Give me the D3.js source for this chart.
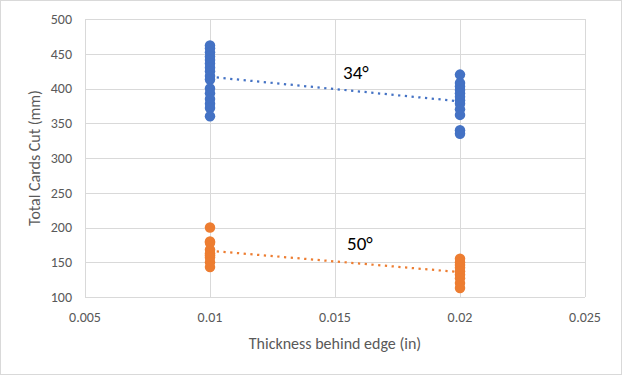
<!DOCTYPE html>
<html>
<head>
<meta charset="utf-8">
<script src="https://cdn.jsdelivr.net/npm/d3@7"></script>
<style>
  body { margin: 0; background: #fff; }
  text { font-family: Carlito, Calibri, "Liberation Sans", sans-serif; }
</style>
</head>
<body>
<div id="chart"></div>
<script>
const xTicks = [0.005, 0.01, 0.015, 0.02, 0.025];
const yTicks = [100, 150, 200, 250, 300, 350, 400, 450, 500];
const blueX = [0.01, 0.02];
const blue01 = [462, 458, 452, 446, 441, 436, 430, 425, 418, 413, 400, 393, 385, 378, 372, 360];
const blue02 = [420, 408, 403, 398, 393, 388, 383, 378, 370, 362, 340, 335];
const orange01 = [200, 180, 178, 168, 163, 160, 157, 150, 143];
const orange02 = [155, 150, 146, 142, 137, 132, 127, 120, 113];
const seriesNames = ["34°", "50°"];
const colors = ["#4472C4", "#ED7D31"];

const SIZE = { width: 622, height: 375 };
const MARGIN = { left: 85, right: 37, top: 19, bottom: 78 };

const svg = d3.select("div#chart").append("svg")
    .attr("width", SIZE.width)
    .attr("height", SIZE.height);

svg.append("rect")
    .attr("x", 0.5).attr("y", 0.5)
    .attr("width", SIZE.width - 1).attr("height", SIZE.height - 1)
    .attr("fill", "#fff").attr("stroke", "#d9d9d9");

const x = d3.scaleLinear().domain([0.005, 0.025]).range([MARGIN.left, SIZE.width - MARGIN.right]);
const y = d3.scaleLinear().domain([100, 500]).range([SIZE.height - MARGIN.bottom, MARGIN.top]);

// grid
svg.append("g").selectAll("line").data(yTicks).join("line")
    .attr("x1", MARGIN.left).attr("x2", SIZE.width - MARGIN.right)
    .attr("y1", d => Math.round(y(d)) + 0.5).attr("y2", d => Math.round(y(d)) + 0.5)
    .attr("stroke", "#d9d9d9");
svg.append("g").selectAll("line").data(xTicks).join("line")
    .attr("y1", MARGIN.top).attr("y2", SIZE.height - MARGIN.bottom)
    .attr("x1", d => Math.round(x(d)) + 0.5).attr("x2", d => Math.round(x(d)) + 0.5)
    .attr("stroke", "#d9d9d9");

// tick labels
svg.append("g").selectAll("text").data(yTicks).join("text")
    .attr("x", MARGIN.left - 13).attr("y", d => y(d)).attr("dy", "0.35em")
    .attr("text-anchor", "end").attr("font-size", 14).attr("fill", "#595959")
    .text(d => d);
svg.append("g").selectAll("text").data(xTicks).join("text")
    .attr("x", d => x(d)).attr("y", SIZE.height - MARGIN.bottom + 20).attr("dy", "0.35em")
    .attr("text-anchor", "middle").attr("font-size", 14).attr("fill", "#595959")
    .text(d => d3.format("")(d));

// axis titles
svg.append("text")
    .attr("x", (MARGIN.left + SIZE.width - MARGIN.right) / 2).attr("y", 343).attr("dy", "0.35em")
    .attr("text-anchor", "middle").attr("font-size", 16).attr("fill", "#595959")
    .text("Thickness behind edge (in)");
svg.append("text")
    .attr("transform", `translate(34, ${(MARGIN.top + SIZE.height - MARGIN.bottom) / 2}) rotate(-90)`)
    .attr("dy", "0.35em")
    .attr("text-anchor", "middle").attr("font-size", 16).attr("fill", "#595959")
    .text("Total Cards Cut (mm)");

const series = [
  [blue01, blue02],
  [orange01, orange02]
];

series.forEach((groups, si) => {
  const pts = groups.flatMap((vals, gi) => vals.map(v => [blueX[gi], v]));
  // linear trendline
  const mx = d3.mean(pts, p => p[0]), my = d3.mean(pts, p => p[1]);
  const slope = d3.sum(pts, p => (p[0] - mx) * (p[1] - my)) / d3.sum(pts, p => (p[0] - mx) ** 2);
  const f = xv => my + slope * (xv - mx);
  const g = svg.append("g");
  g.selectAll("circle").data(pts).join("circle")
      .attr("cx", p => x(p[0])).attr("cy", p => y(p[1])).attr("r", 5.25)
      .attr("fill", colors[si]);
  g.append("line")
      .attr("x1", x(blueX[0])).attr("y1", y(f(blueX[0])))
      .attr("x2", x(blueX[1])).attr("y2", y(f(blueX[1])))
      .attr("stroke", colors[si]).attr("stroke-width", 2.25)
      .attr("stroke-dasharray", "2.25,4.5");
});

// series labels
svg.append("text").attr("x", 343).attr("y", 79).attr("font-size", 19).attr("fill", "#000").text(seriesNames[0]);
svg.append("text").attr("x", 347).attr("y", 250).attr("font-size", 19).attr("fill", "#000").text(seriesNames[1]);
</script>
</body>
</html>
